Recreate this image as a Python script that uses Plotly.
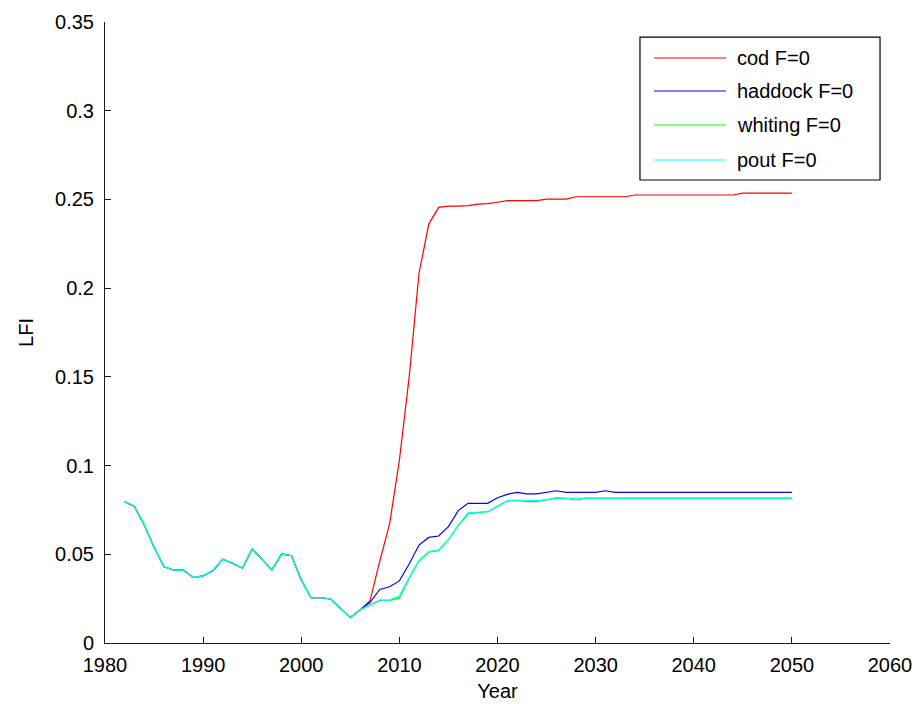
import plotly.graph_objects as go

# Years of the run: hindcast 1982-2006, projection 2007-2050
years = list(range(1982, 2051))

# LFI shared by all scenarios over the hindcast period (1982-2006)
lfi_hindcast = [
    0.0797, 0.0769, 0.0665, 0.0540, 0.0430, 0.0411, 0.0411, 0.0368, 0.0378, 0.0408,
    0.0472, 0.0449, 0.0421, 0.0530, 0.0473, 0.0411, 0.0502, 0.0492, 0.0355, 0.0255,
    0.0255, 0.0248, 0.0195, 0.0144, 0.0186,
]

# Projections 2007-2050 with F=0 for each species
cod_proj = [
    0.0238, 0.0460, 0.0670, 0.1030, 0.1500, 0.2084, 0.2361, 0.2455, 0.2462, 0.2462,
    0.2465, 0.2473, 0.2476, 0.2484, 0.2493, 0.2493, 0.2493, 0.2493, 0.2502, 0.2502,
    0.2502, 0.2515, 0.2515, 0.2515, 0.2515, 0.2515, 0.2515, 0.2525, 0.2525, 0.2525,
    0.2525, 0.2525, 0.2525, 0.2525, 0.2525, 0.2525, 0.2525, 0.2525, 0.2535, 0.2535,
    0.2535, 0.2535, 0.2535, 0.2535,
]
haddock_proj = [
    0.0228, 0.0302, 0.0317, 0.0350, 0.0445, 0.0552, 0.0595, 0.0603, 0.0656, 0.0746,
    0.0787, 0.0787, 0.0787, 0.0819, 0.0838, 0.0849, 0.0841, 0.0841, 0.0849, 0.0858,
    0.0849, 0.0849, 0.0849, 0.0849, 0.0858, 0.0849, 0.0849, 0.0849, 0.0849, 0.0849,
    0.0849, 0.0849, 0.0849, 0.0849, 0.0849, 0.0849, 0.0849, 0.0849, 0.0849, 0.0849,
    0.0849, 0.0849, 0.0849, 0.0849,
]
whiting_proj = [
    0.0212, 0.0240, 0.0240, 0.0253, 0.0365, 0.0462, 0.0512, 0.0522, 0.0582, 0.0662,
    0.0728, 0.0736, 0.0740, 0.0770, 0.0800, 0.0803, 0.0797, 0.0797, 0.0806, 0.0817,
    0.0813, 0.0806, 0.0817, 0.0817, 0.0817, 0.0817, 0.0817, 0.0817, 0.0817, 0.0817,
    0.0817, 0.0817, 0.0817, 0.0817, 0.0817, 0.0817, 0.0817, 0.0817, 0.0817, 0.0817,
    0.0817, 0.0817, 0.0817, 0.0817,
]
pout_proj = [
    0.0212, 0.0242, 0.0242, 0.0265, 0.0370, 0.0466, 0.0515, 0.0524, 0.0584, 0.0665,
    0.0734, 0.0738, 0.0740, 0.0772, 0.0802, 0.0806, 0.0803, 0.0803, 0.0808, 0.0819,
    0.0817, 0.0817, 0.0817, 0.0817, 0.0817, 0.0817, 0.0817, 0.0817, 0.0817, 0.0817,
    0.0817, 0.0817, 0.0817, 0.0817, 0.0817, 0.0817, 0.0817, 0.0817, 0.0817, 0.0817,
    0.0817, 0.0817, 0.0817, 0.0817,
]

series_names = ["cod F=0", "haddock F=0", "whiting F=0", "pout F=0"]
series_colors = ["#ff0000", "#0000ff", "#00ff00", "#00ffff"]
series_proj = [cod_proj, haddock_proj, whiting_proj, pout_proj]

x_ticks = [1980, 1990, 2000, 2010, 2020, 2030, 2040, 2050, 2060]
y_ticks = [0, 0.05, 0.1, 0.15, 0.2, 0.25, 0.3, 0.35]
y_tick_text = ["0", "0.05", "0.1", "0.15", "0.2", "0.25", "0.3", "0.35"]

FONT = "Liberation Sans, Arial, Helvetica, sans-serif"
FSIZE = 20
AXIS_COLOR = "#1a1a1a"

fig = go.Figure()
for name, color, proj in zip(series_names, series_colors, series_proj):
    fig.add_trace(go.Scatter(
        x=years,
        y=lfi_hindcast + proj,
        mode="lines",
        name=name,
        line=dict(color=color, width=1.2),
        showlegend=False,
    ))

# Boxed legend in the upper right of the axes, long line samples
leg_x0, leg_x1, leg_y0, leg_y1 = 0.6815, 0.9873, 0.7456, 0.9758
row_y = [0.9420, 0.8889, 0.8341, 0.7778]
shapes = [dict(type="rect", xref="paper", yref="paper",
               x0=leg_x0, x1=leg_x1, y0=leg_y0, y1=leg_y1,
               line=dict(color="#000000", width=1.2), fillcolor="white", layer="above")]
annotations = []
for name, color, ry in zip(series_names, series_colors, row_y):
    shapes.append(dict(type="line", xref="paper", yref="paper",
                       x0=0.6994, x1=0.7911, y0=ry, y1=ry,
                       line=dict(color=color, width=1.2), layer="above"))
    annotations.append(dict(xref="paper", yref="paper", x=0.8025, y=ry,
                            text=name, showarrow=False, xanchor="left", yanchor="middle",
                            font=dict(family=FONT, size=FSIZE, color="#000000")))

fig.update_layout(
    width=918,
    height=704,
    margin=dict(l=105, r=28, t=22, b=61),
    paper_bgcolor="white",
    plot_bgcolor="white",
    font=dict(family=FONT, size=FSIZE, color="#000000"),
    shapes=shapes,
    annotations=annotations,
    showlegend=False,
    xaxis=dict(
        range=[1980, 2060],
        tickvals=x_ticks,
        ticktext=[str(v) for v in x_ticks],
        ticks="inside", ticklen=6, tickcolor=AXIS_COLOR, tickwidth=1,
        showline=True, linecolor=AXIS_COLOR, linewidth=1,
        showgrid=False, zeroline=False,
        ticklabelstandoff=4,
        automargin=False,
        title=dict(text="Year", standoff=8, font=dict(family=FONT, size=FSIZE)),
        tickfont=dict(family=FONT, size=FSIZE),
    ),
    yaxis=dict(
        range=[0, 0.35],
        tickvals=y_ticks,
        ticktext=y_tick_text,
        ticks="inside", ticklen=6, tickcolor=AXIS_COLOR, tickwidth=1,
        showline=True, linecolor=AXIS_COLOR, linewidth=1,
        showgrid=False, zeroline=False,
        ticklabelstandoff=6,
        automargin=False,
        title=dict(text="LFI", standoff=16, font=dict(family=FONT, size=FSIZE)),
        tickfont=dict(family=FONT, size=FSIZE),
    ),
)

fig.write_html("out.html")
